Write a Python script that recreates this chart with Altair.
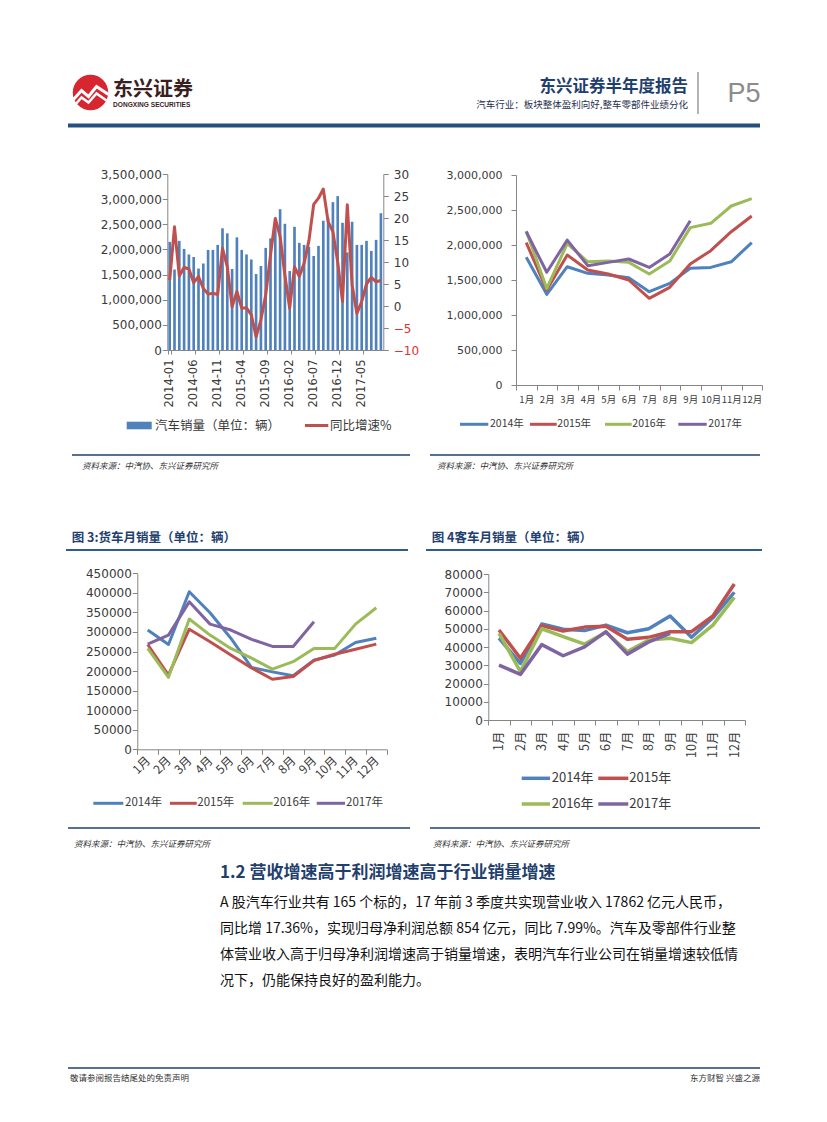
import altair as alt
import pandas as pd

OFF = 8
W, H = 811, 1100


def px(v):
    return v - OFF


CJK = "Noto Sans CJK SC"
NUM = "DejaVu Sans"
NAVY = "#1F3F6E"
AXIS = "#868686"
LABEL = "#3a3a3a"

# ---------------- data ----------------
years = ["2014", "2015", "2016", "2017"]
year_names = ["2014年", "2015年", "2016年", "2017年"]
series_colors = ["#4F81BD", "#C0504D", "#9BBB59", "#8064A2"]
month_cn = ["1月", "2月", "3月", "4月", "5月", "6月", "7月", "8月", "9月", "10月", "11月", "12月"]
ym = [f"{y}-{m:02d}" for y in years for m in range(1, 13)][:45]
ym_ticks = ["2014-01", "2014-06", "2014-11", "2015-04", "2015-09",
            "2016-02", "2016-07", "2016-12", "2017-05"]

car_sales = [
    2150000, 1600000, 2170000, 2010000, 1900000, 1850000, 1620000, 1720000, 1990000, 1990000, 2090000, 2420000,
    2320000, 1610000, 2240000, 1990000, 1900000, 1800000, 1510000, 1670000, 2030000, 2220000, 2500000, 2800000,
    2510000, 1570000, 2450000, 2130000, 2090000, 2050000, 1870000, 2070000, 2570000, 2620000, 2940000, 3060000,
    2530000, 1940000, 2550000, 2090000, 2090000, 2170000, 1970000, 2190000, 2720000,
]
car_yoy = [
    5.9, 18.0, 6.8, 8.8, 8.4, 5.3, 6.7, 4.0, 2.7, 2.9, 2.6, 13.1,
    8.9, -0.2, 3.3, -0.5, -0.4, -2.0, -7.0, -3.2, 2.5, 11.6, 19.9, 15.8,
    7.0, -0.5, 8.9, 6.7, 9.7, 14.8, 23.1, 24.5, 26.6, 19.2, 16.9, 10.0,
    1.0, 23.0, 4.8, -1.7, 1.0, 5.0, 6.5, 5.5, 5.8,
]

total_2014 = [1824000, 1295000, 1690000, 1595000, 1570000, 1533000, 1333000, 1452000, 1667000, 1680000, 1760000, 2033000]
total_2015 = [2033000, 1357000, 1857000, 1643000, 1586000, 1500000, 1238000, 1395000, 1729000, 1919000, 2190000, 2414000]
total_2016 = [2200000, 1380000, 2020000, 1760000, 1770000, 1752000, 1586000, 1770000, 2248000, 2310000, 2557000, 2662000]
total_2017 = [2190000, 1610000, 2070000, 1705000, 1752000, 1800000, 1680000, 1871000, 2347000]

truck_2014 = [305000, 268000, 403000, 349000, 284000, 209000, 198000, 188000, 228000, 241000, 273000, 284000]
truck_2015 = [268000, 190000, 307000, 275000, 241000, 208000, 179000, 186000, 227000, 243000, 256000, 269000]
truck_2016 = [258000, 184000, 333000, 292000, 258000, 233000, 205000, 224000, 258000, 258000, 320000, 362000]
truck_2017 = [269000, 292000, 377000, 320000, 305000, 281000, 263000, 263000, 326000]

bus_2014 = [44800, 31000, 52600, 49700, 49000, 52000, 47800, 50000, 57000, 45300, 56000, 70000]
bus_2015 = [49300, 33800, 51700, 48800, 50900, 51400, 44200, 45300, 48400, 48400, 57000, 74500]
bus_2016 = [47500, 26500, 50000, 45700, 41600, 48000, 37500, 43800, 44800, 42400, 52000, 67200]
bus_2017 = [30100, 25000, 41300, 35200, 40100, 48400, 36100, 42800, 47500]


def long_df(series):
    rows = []
    for name, vals in zip(year_names, series):
        for i, v in enumerate(vals):
            rows.append({"month": month_cn[i], "m": i + 1, "year": name, "value": v})
    return pd.DataFrame(rows)


def one():
    return alt.Chart(pd.DataFrame({"k": [0]}))


def T(s, x, y, size, color="#000000", font=CJK, weight="normal", align="left",
      baseline="middle", style="normal"):
    return one().mark_text(text=s, font=font, fontSize=size, fontWeight=weight,
                           fontStyle=style, color=color, align=align,
                           baseline=baseline).encode(x=alt.value(px(x)), y=alt.value(px(y)))


def HR(x0, x1, y, color, width):
    return one().mark_rule(color=color, strokeWidth=width).encode(
        x=alt.value(px(x0)), x2=alt.value(px(x1)), y=alt.value(px(y)))


def VR(x, y0, y1, color, width):
    return one().mark_rule(color=color, strokeWidth=width).encode(
        x=alt.value(px(x)), y=alt.value(px(y0)), y2=alt.value(px(y1)))


def RECT(x0, x1, y0, y1, color):
    return one().mark_rect(color=color).encode(
        x=alt.value(px(x0)), x2=alt.value(px(x1)), y=alt.value(px(y0)), y2=alt.value(px(y1)))


# ---------------- chart 1: bars + yoy line ----------------
df1 = pd.DataFrame({"ym": ym, "sales": car_sales, "yoy": car_yoy})
x1_scale = alt.Scale(type="band", domain=ym, range=[px(167.3), px(383.3)],
                     paddingInner=0.45, paddingOuter=0.225)
x1_axis = alt.Axis(orient="bottom", values=ym_ticks, labelAngle=-90, labelAlign="right",
                   labelBaseline="middle", tickBand="extent", labelFont=NUM,
                   labelFontSize=11.5, labelPadding=5, tickSize=4, offset=px(350) - H,
                   labelColor=LABEL)

bars1 = alt.Chart(df1).mark_bar(color="#4F81BD").encode(
    x=alt.X("ym:N", scale=x1_scale, axis=x1_axis, title=None),
    y=alt.Y("sales:Q", title=None,
            scale=alt.Scale(domain=[0, 3500000], range=[px(350), px(174)], nice=False),
            axis=alt.Axis(orient="left", offset=-px(167.3), values=list(range(0, 3500001, 500000)),
                          format=",.0f", labelFont=NUM, labelFontSize=12, labelPadding=1,
                          tickSize=5, labelColor=LABEL)),
)
line1 = alt.Chart(df1).mark_line(color="#C0504D", strokeWidth=3, strokeJoin="round").encode(
    x=alt.X("ym:N", scale=x1_scale, axis=x1_axis, title=None, bandPosition=0.5, sort=ym),
    y=alt.Y("yoy:Q", title=None,
            scale=alt.Scale(domain=[-10, 30], range=[px(350), px(174)], nice=False, zero=False),
            axis=alt.Axis(orient="right", offset=px(383.3) - W, values=list(range(-10, 31, 5)),
                          format="d", labelFont=NUM, labelFontSize=12, labelPadding=5, tickSize=5,
                          labelColor=alt.condition("datum.value < 0", alt.value("#E0312E"),
                                                   alt.value(LABEL)))),
)
c1 = alt.layer(bars1, line1).resolve_scale(y="independent").resolve_axis(y="independent")


# ---------------- year line charts ----------------
def year_lines(df, x0, x1, ybot, ytop, ymax, ystep, yfmt, angle, lsize, lpad,
               ysize, ypad, stroke, align, baseline):
    return alt.Chart(df).mark_line(strokeWidth=stroke, strokeJoin="round").encode(
        x=alt.X("month:N", bandPosition=0.5, title=None,
                scale=alt.Scale(type="band", domain=month_cn, range=[px(x0), px(x1)],
                                paddingInner=0, paddingOuter=0),
                axis=alt.Axis(orient="bottom", tickBand="extent", labelAngle=angle,
                              labelAlign=align, labelBaseline=baseline, labelFont=CJK,
                              labelFontSize=lsize, labelPadding=lpad, tickSize=5,
                              offset=px(ybot) - H, labelColor=LABEL)),
        y=alt.Y("value:Q", title=None,
                scale=alt.Scale(domain=[0, ymax], range=[px(ybot), px(ytop)], nice=False),
                axis=alt.Axis(orient="left", offset=-px(x0), values=list(range(0, ymax + 1, ystep)),
                              format=yfmt, labelFont=NUM, labelFontSize=ysize,
                              labelPadding=ypad, tickSize=5, labelColor=LABEL)),
        color=alt.Color("year:N", scale=alt.Scale(domain=year_names, range=series_colors),
                        legend=None),
        order=alt.Order("m:Q"),
    )


c2 = year_lines(long_df([total_2014, total_2015, total_2016, total_2017]),
                516, 762, 385, 175, 3000000, 500000, ",.0f", 0, 9.5, 4, 11, 9, 3,
                "center", "top")
c3 = year_lines(long_df([truck_2014, truck_2015, truck_2016, truck_2017]),
                137.3, 386.7, 749.3, 573.3, 450000, 50000, "d", -45, 12, 4, 12, 1, 3,
                "right", "middle")
c4 = year_lines(long_df([bus_2014, bus_2015, bus_2016, bus_2017]),
                488.3, 745, 720, 574, 80000, 10000, "d", -90, 12.5, 6, 12, 1, 3.5,
                "right", "middle")

# ---------------- decorations ----------------
deco = []
# header
deco.append(one().mark_point(shape="circle", filled=True, size=1260, color="#D7262F", opacity=1)
            .encode(x=alt.value(px(90.5)), y=alt.value(px(92.5))))
deco.append(one().mark_point(shape="M-0.85,0.35L-0.45,-0.1L-0.1,0.2L0.3,-0.3L0.9,0.1",
                             filled=False, stroke="white", strokeWidth=3, size=1600, opacity=1)
            .encode(x=alt.value(px(90.5)), y=alt.value(px(92.5))))
deco.append(one().mark_point(shape="M-0.8,0.65L-0.45,0.25L-0.1,0.5L0.3,0.05L0.8,0.4",
                             filled=False, stroke="white", strokeWidth=2.5, size=1600, opacity=1)
            .encode(x=alt.value(px(90.5)), y=alt.value(px(92.5))))
deco.append(T("东兴证券", 113, 90, 20, "#3b1e1e", weight="bold"))
deco.append(T("DONGXING SECURITIES", 113, 105, 6.6, "#3b1e1e", font="Liberation Sans", weight="bold"))
deco.append(T("东兴证券半年度报告", 688, 87, 16.5, NAVY, weight="bold", align="right"))
deco.append(T("汽车行业：板块整体盈利向好,整车零部件业绩分化", 688, 104.5, 9.5, "#1F2F4F", align="right"))
deco.append(VR(698, 72, 114, "#9a9a9a", 1.5))
deco.append(T("P5", 744, 93.5, 27, "#8c8c8c", font="Liberation Sans", align="center"))
deco.append(RECT(68, 760, 123.5, 127.5, "#24507F"))

# chart 1 legend
deco.append(RECT(126.7, 151.7, 421.7, 429.3, "#4F81BD"))
deco.append(T("汽车销量（单位：辆）", 155, 425.5, 12.5, LABEL))
deco.append(HR(305, 328.3, 425.5, "#C0504D", 3))
deco.append(T("同比增速%", 330, 425.5, 12.5, LABEL))

# chart 2 legend
for (l0, l1, tx), name, col in zip([(460, 488.3, 490), (530, 556.7, 557.3),
                                    (605, 631.7, 632.3), (678.3, 706.7, 708.3)],
                                   year_names, series_colors):
    deco.append(HR(l0, l1, 424.3, col, 3))
    deco.append(T(name, tx, 424.3, 10.5, LABEL))

# sources (top)
deco.append(HR(72, 410, 455, NAVY, 1.5))
deco.append(HR(430, 760, 455, NAVY, 1.5))
deco.append(T("资料来源：中汽协、东兴证券研究所", 82, 465.5, 8.5, "#333333", style="italic"))
deco.append(T("资料来源：中汽协、东兴证券研究所", 437, 465.5, 8.5, "#333333", style="italic"))

# chart 3 / 4 titles
deco.append(T("图 3:货车月销量（单位：辆）", 71.7, 537.5, 12.5, NAVY, weight="bold"))
deco.append(HR(66, 408, 550, "#2E5E8E", 2))
deco.append(T("图 4客车月销量（单位：辆）", 431.7, 538, 12.5, NAVY, weight="bold"))
deco.append(HR(426, 762, 550, "#2E5E8E", 2))

# chart 3 legend
for (l0, l1, tx), name, col in zip([(93.3, 123.3, 125), (170, 196.7, 197.3),
                                    (242.7, 272.7, 273.3), (316.7, 345, 346)],
                                   year_names, series_colors):
    deco.append(HR(l0, l1, 803.3, col, 3))
    deco.append(T(name, tx, 803.3, 11.5, LABEL))

# chart 4 legend (2 rows)
for (l0, l1, tx, ly), name, col in zip([(521.7, 550, 551.7, 778.3), (598.3, 628.3, 629.3, 778.3),
                                        (521.7, 550, 551.7, 804), (598.3, 628.3, 629.3, 804)],
                                       year_names, series_colors):
    deco.append(HR(l0, l1, ly, col, 3.5))
    deco.append(T(name, tx, ly, 13, LABEL))

# sources (bottom)
deco.append(HR(68, 410, 828, NAVY, 1.5))
deco.append(HR(430, 760, 828, NAVY, 1.5))
deco.append(T("资料来源：中汽协、东兴证券研究所", 74, 843.5, 8.5, "#333333", style="italic"))
deco.append(T("资料来源：中汽协、东兴证券研究所", 433, 843.5, 8.5, "#333333", style="italic"))

# section heading + body
deco.append(T("1.2 营收增速高于利润增速高于行业销量增速", 220, 873, 17, NAVY, weight="bold"))
body = [
    "A 股汽车行业共有 165 个标的，17 年前 3 季度共实现营业收入 17862 亿元人民币，",
    "同比增 17.36%，实现归母净利润总额 854 亿元，同比 7.99%。汽车及零部件行业整",
    "体营业收入高于归母净利润增速高于销量增速，表明汽车行业公司在销量增速较低情",
    "况下，仍能保持良好的盈利能力。",
]
for i, s in enumerate(body):
    deco.append(T(s, 220, 903 + 26 * i, 14, "#111111"))

# footer
deco.append(HR(68, 760, 1068, NAVY, 1.5))
deco.append(T("敬请参阅报告结尾处的免责声明", 70, 1078, 8.5, "#333333"))
deco.append(T("东方财智 兴盛之源", 760, 1078, 8.5, "#333333", align="right"))

chart = alt.layer(c1, c2, c3, c4, *deco).resolve_scale(
    x="independent", y="independent"
).resolve_axis(
    x="independent", y="independent"
).properties(
    width=W, height=H, padding=0,
    autosize=alt.AutoSizeParams(type="none"),
).configure_view(
    stroke=None
).configure_axis(
    grid=False, domainColor=AXIS, tickColor=AXIS, domainWidth=1, tickWidth=1,
    labelOverlap=False, labelFlush=False, labelBound=False,
)

chart.save("out.html", embed_options={"renderer": "svg", "actions": False})
